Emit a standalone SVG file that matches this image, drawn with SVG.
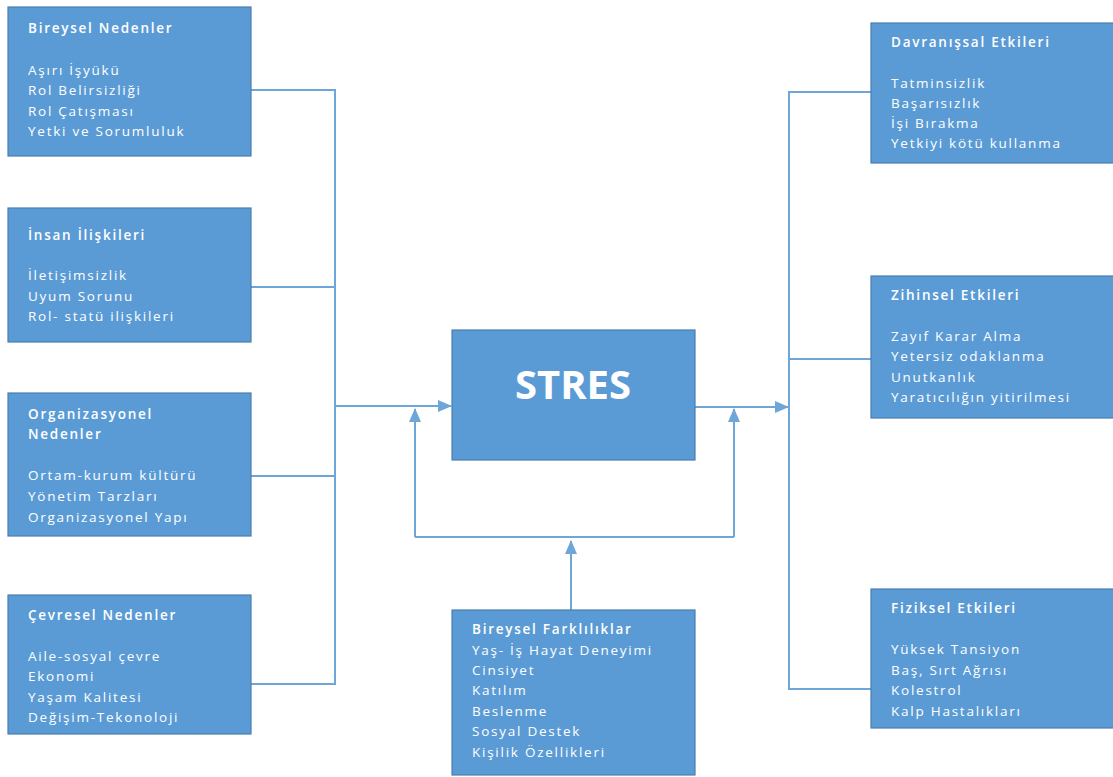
<svg xmlns="http://www.w3.org/2000/svg" width="1113" height="777" viewBox="0 0 1113 777">
<defs>
<style>
.box{fill:#5B9BD5;stroke:#4A7EB0;stroke-width:1.2}
.t{font-family:"Open Sans","Liberation Sans",sans-serif;font-size:13.5px;fill:#ffffff;letter-spacing:1.75px}
.h{font-weight:600}
.ln{fill:none;stroke:#6FA6DA;stroke-width:2}
.big{font-family:"Open Sans","Liberation Sans",sans-serif;font-size:40px;font-weight:700;fill:#ffffff}
</style>
<marker id="au" markerWidth="14" markerHeight="12" refX="13" refY="6" orient="auto" markerUnits="userSpaceOnUse">
<path d="M0,0 L14,6 L0,12 z" fill="#6FA6DA"/>
</marker>
</defs>
<rect width="1113" height="777" fill="#ffffff"/>
<g id="connectors">
<path class="ln" d="M251,90 H335 V684 H251"/>
<path class="ln" d="M251,287 H335"/>
<path class="ln" d="M251,476 H335"/>
<path class="ln" d="M335,406 H451" marker-end="url(#au)"/>
<path class="ln" d="M695,407 H788" marker-end="url(#au)"/>
<path class="ln" d="M871,92 H789 V689 H871"/>
<path class="ln" d="M789,359 H871"/>
<path class="ln" d="M415,537 H734"/>
<path class="ln" d="M415,537 V409" marker-end="url(#au)"/>
<path class="ln" d="M734,537 V409" marker-end="url(#au)"/>
<path class="ln" d="M571,610 V541" marker-end="url(#au)"/>
</g>
<g id="bireysel">
<rect class="box" x="8" y="7" width="243" height="149"/>
<text class="t h" x="28" y="33">Bireysel Nedenler</text>
<text class="t" x="28" y="75">Aşırı İşyükü</text>
<text class="t" x="28" y="95">Rol Belirsizliği</text>
<text class="t" x="28" y="116">Rol Çatışması</text>
<text class="t" x="28" y="136">Yetki ve Sorumluluk</text>
</g>
<g id="insan">
<rect class="box" x="8" y="208" width="243" height="134"/>
<text class="t h" x="28" y="240">İnsan İlişkileri</text>
<text class="t" x="28" y="280">İletişimsizlik</text>
<text class="t" x="28" y="301">Uyum Sorunu</text>
<text class="t" x="28" y="321">Rol- statü ilişkileri</text>
</g>
<g id="organizasyonel">
<rect class="box" x="8" y="393" width="243" height="143"/>
<text class="t h" x="28" y="419">Organizasyonel</text>
<text class="t h" x="28" y="439">Nedenler</text>
<text class="t" x="28" y="480">Ortam-kurum kültürü</text>
<text class="t" x="28" y="501">Yönetim Tarzları</text>
<text class="t" x="28" y="522">Organizasyonel Yapı</text>
</g>
<g id="cevresel">
<rect class="box" x="8" y="595" width="243" height="139"/>
<text class="t h" x="28" y="620">Çevresel Nedenler</text>
<text class="t" x="28" y="661">Aile-sosyal çevre</text>
<text class="t" x="28" y="681">Ekonomi</text>
<text class="t" x="28" y="702">Yaşam Kalitesi</text>
<text class="t" x="28" y="722">Değişim-Tekonoloji</text>
</g>
<g id="stres">
<rect class="box" x="452" y="330" width="243" height="130"/>
<text class="big" x="573" y="399" text-anchor="middle">STRES</text>
</g>
<g id="farkliliklar">
<rect class="box" x="452" y="610" width="243" height="165"/>
<text class="t h" x="472" y="634">Bireysel Farklılıklar</text>
<text class="t" x="472" y="655">Yaş- İş Hayat Deneyimi</text>
<text class="t" x="472" y="675">Cinsiyet</text>
<text class="t" x="472" y="695">Katılım</text>
<text class="t" x="472" y="716">Beslenme</text>
<text class="t" x="472" y="736">Sosyal Destek</text>
<text class="t" x="472" y="757">Kişilik Özellikleri</text>
</g>
<g id="davranissal">
<rect class="box" x="871" y="23" width="250" height="140"/>
<text class="t h" x="891" y="47">Davranışsal Etkileri</text>
<text class="t" x="891" y="88">Tatminsizlik</text>
<text class="t" x="891" y="108">Başarısızlık</text>
<text class="t" x="891" y="128">İşi Bırakma</text>
<text class="t" x="891" y="148">Yetkiyi kötü kullanma</text>
</g>
<g id="zihinsel">
<rect class="box" x="871" y="276" width="250" height="142"/>
<text class="t h" x="891" y="300">Zihinsel Etkileri</text>
<text class="t" x="891" y="341">Zayıf Karar Alma</text>
<text class="t" x="891" y="361">Yetersiz odaklanma</text>
<text class="t" x="891" y="382">Unutkanlık</text>
<text class="t" x="891" y="402">Yaratıcılığın yitirilmesi</text>
</g>
<g id="fiziksel">
<rect class="box" x="871" y="589" width="250" height="139"/>
<text class="t h" x="891" y="613">Fiziksel Etkileri</text>
<text class="t" x="891" y="654">Yüksek Tansiyon</text>
<text class="t" x="891" y="675">Baş, Sırt Ağrısı</text>
<text class="t" x="891" y="695">Kolestrol</text>
<text class="t" x="891" y="716">Kalp Hastalıkları</text>
</g>
</svg>
